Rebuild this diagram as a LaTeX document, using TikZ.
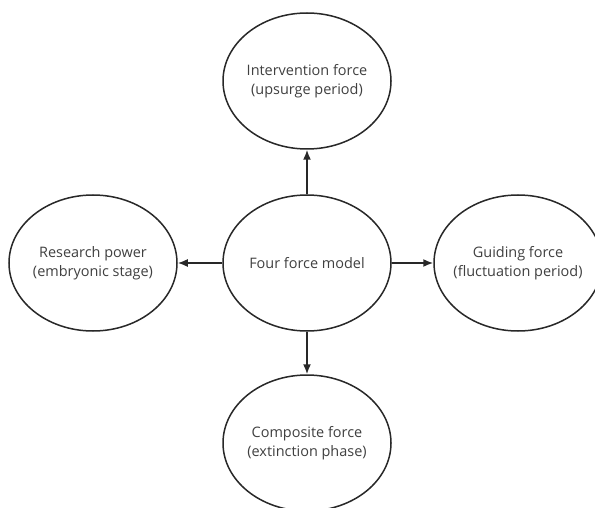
\documentclass[tikz,border=0pt]{standalone}
\usepackage{fontspec}
\setmainfont{Open Sans}
\usepackage{tikz}
\usetikzlibrary{arrows.meta,shapes}
\definecolor{txtgray}{RGB}{64,64,64}
\definecolor{linegray}{RGB}{40,40,40}

\begin{document}
\begin{tikzpicture}[x=1bp, y=-1bp,
    forcenode/.style={ellipse, draw=linegray, line width=1.5bp, fill=white, inner sep=0pt, minimum width=168bp, minimum height=136bp},
    forcetext/.style={align=center, text=txtgray, font=\fontsize{14.5}{18.7}\selectfont},
    forcearrow/.style={line width=1.6bp, draw=linegray, -{Latex[length=10bp,width=8bp]}}]

    \useasboundingbox (0,0) rectangle (595,508);

    %\node[forcenode] at (307,263) (model) {};
    \node[forcenode][label={[forcetext]center:Four force model}](model) at (307,263) {};

    \node[forcenode][label={[forcetext]center:Intervention force\\(upsurge period)}](upsurge) at (307,81) {};
    \node[forcenode][label={[forcetext]center:Research power\\(embryonic stage)}](embryo) at (93,263) {};
    \node[forcenode][label={[forcetext]center:Guiding force\\(fluctuation period)}](fluct) at (518,263) {};
    \node[forcenode][label={[forcetext]center:Composite force\\(extinction phase)}](extinct) at (307,443) {};

            \draw[forcearrow] (model) -- (upsurge);
            \draw[forcearrow] (model) -- (embryo);
            \draw[forcearrow] (model) -- (fluct);
            \draw[forcearrow] (model) -- (extinct);

\end{tikzpicture}
\end{document}
